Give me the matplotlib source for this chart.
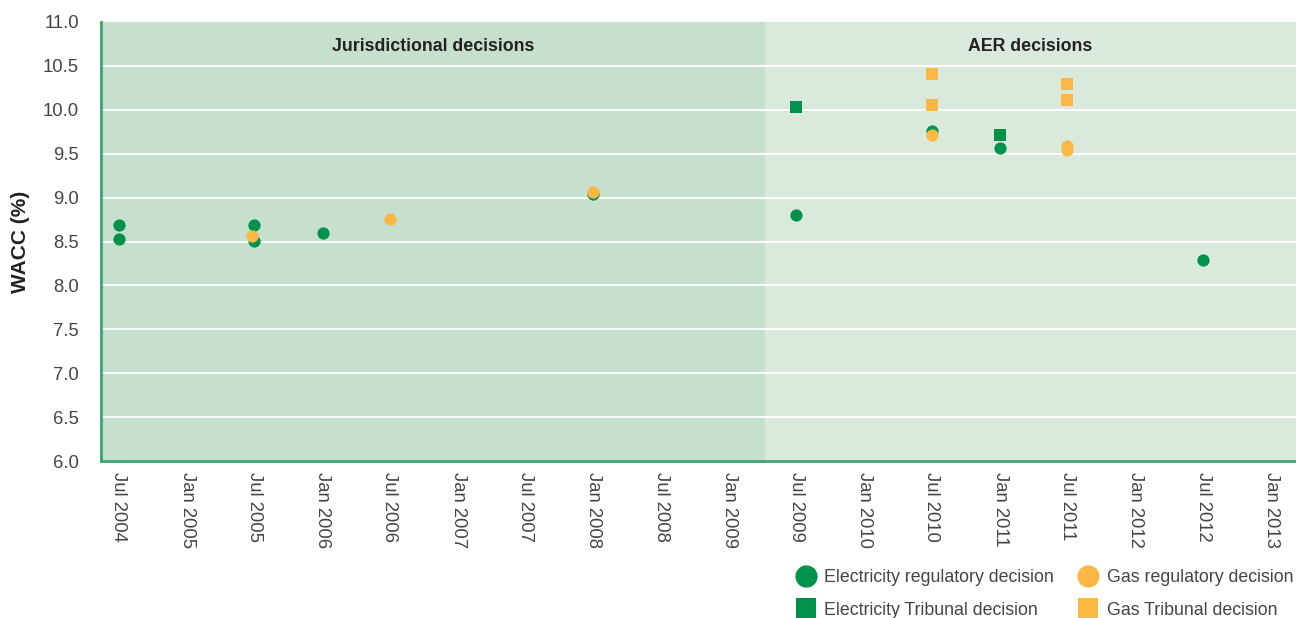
import matplotlib.pyplot as plt
import matplotlib.dates as mdates
from matplotlib.lines import Line2D
import pandas as pd

# WACC outcomes by decision date
elec_reg_dates = ['2004-07-01', '2004-07-01', '2005-07-01', '2005-07-01', '2006-01-01',
                  '2008-01-01', '2009-07-01', '2010-07-01', '2011-01-01', '2012-07-01']
elec_reg_wacc = [8.69, 8.53, 8.69, 8.51, 8.60, 9.04, 8.80, 9.76, 9.56, 8.29]

gas_reg_dates = ['2005-06-26', '2006-07-01', '2008-01-01', '2010-07-01', '2011-07-01', '2011-07-01']
gas_reg_wacc = [8.56, 8.76, 9.06, 9.71, 9.59, 9.54]

elec_trib_dates = ['2009-07-01', '2011-01-01']
elec_trib_wacc = [10.03, 9.71]

gas_trib_dates = ['2010-07-01', '2010-07-01', '2011-07-01', '2011-07-01']
gas_trib_wacc = [10.41, 10.05, 10.29, 10.11]

periods = ['Jurisdictional decisions', 'AER decisions']
period_edges = ['2004-05-14', '2009-04-06', '2013-03-08']

GREEN = '#00914a'
ORANGE = '#fcb744'
BG = ['#c7dfcd', '#d9e9dc']
TXT = '#444444'

plt.rcParams['font.family'] = ['Liberation Sans', 'DejaVu Sans']

fig = plt.figure(figsize=(12.96, 6.18), dpi=100)
ax = fig.add_axes([101 / 1296, 157 / 618, 1195 / 1296, 439 / 618])

edges = pd.to_datetime(period_edges)
for i, name in enumerate(periods):
    ax.axvspan(edges[i], edges[i + 1], color=BG[i], lw=0, zorder=0)
    mid = edges[i] + (edges[i + 1] - edges[i]) / 2
    ax.text(mid, 10.72, name, ha='center', va='center', fontsize=12.8,
            fontweight='bold', color='#222222', zorder=3)

ax.set_xlim(edges[0], edges[-1])
ax.set_ylim(6, 11)
ax.set_yticks([6 + 0.5 * k for k in range(11)])
ax.yaxis.set_major_formatter(plt.FuncFormatter(lambda v, _: f'{v:.1f}'))
for yv in ax.get_yticks()[1:-1]:
    ax.axhline(yv, color='white', lw=1.3, zorder=1)

ms = 8.8
ax.plot(pd.to_datetime(elec_reg_dates), elec_reg_wacc, 'o', color=GREEN, ms=ms, mew=0, zorder=4)
ax.plot(pd.to_datetime(gas_reg_dates), gas_reg_wacc, 'o', color=ORANGE, ms=ms, mew=0, zorder=5)
ax.plot(pd.to_datetime(elec_trib_dates), elec_trib_wacc, 's', color=GREEN, ms=ms, mew=0, zorder=4)
ax.plot(pd.to_datetime(gas_trib_dates), gas_trib_wacc, 's', color=ORANGE, ms=ms, mew=0, zorder=4)

ax.xaxis.set_major_locator(mdates.MonthLocator(bymonth=[1, 7]))
ax.xaxis.set_major_formatter(mdates.DateFormatter('%b %Y'))
ax.tick_params(axis='x', length=0, pad=8, labelsize=13.3, labelcolor=TXT, labelrotation=-90)
ax.tick_params(axis='y', length=0, pad=16, labelsize=13.3, labelcolor=TXT)
for lbl in ax.get_xticklabels():
    lbl.set_va('top')
    lbl.set_ha('center')

for side in ('top', 'right'):
    ax.spines[side].set_visible(False)
for side in ('left', 'bottom'):
    ax.spines[side].set_color('#3fa56f')
    ax.spines[side].set_linewidth(2)
    ax.spines[side].set_zorder(6)

ax.set_ylabel('WACC (%)', fontsize=15, fontweight='bold', color='#222222')
ax.yaxis.set_label_coords(-71 / 1195, 0.5)

handles = [
    Line2D([], [], marker='o', ls='', color=GREEN, ms=16, mew=0, label='Electricity regulatory decision'),
    Line2D([], [], marker='s', ls='', color=GREEN, ms=15, mew=0, label='Electricity Tribunal decision'),
    Line2D([], [], marker='o', ls='', color=ORANGE, ms=16, mew=0, label='Gas regulatory decision'),
    Line2D([], [], marker='s', ls='', color=ORANGE, ms=15, mew=0, label='Gas Tribunal decision'),
]
fig.legend(handles=handles, loc='center', bbox_to_anchor=(1044 / 1296, 1 - 594 / 618), ncol=2,
           frameon=False, fontsize=12.8, labelcolor=TXT, handletextpad=0.45,
           columnspacing=1.3, labelspacing=0.85, handlelength=1.2, borderaxespad=0)

fig.savefig('out.png', dpi=100)
